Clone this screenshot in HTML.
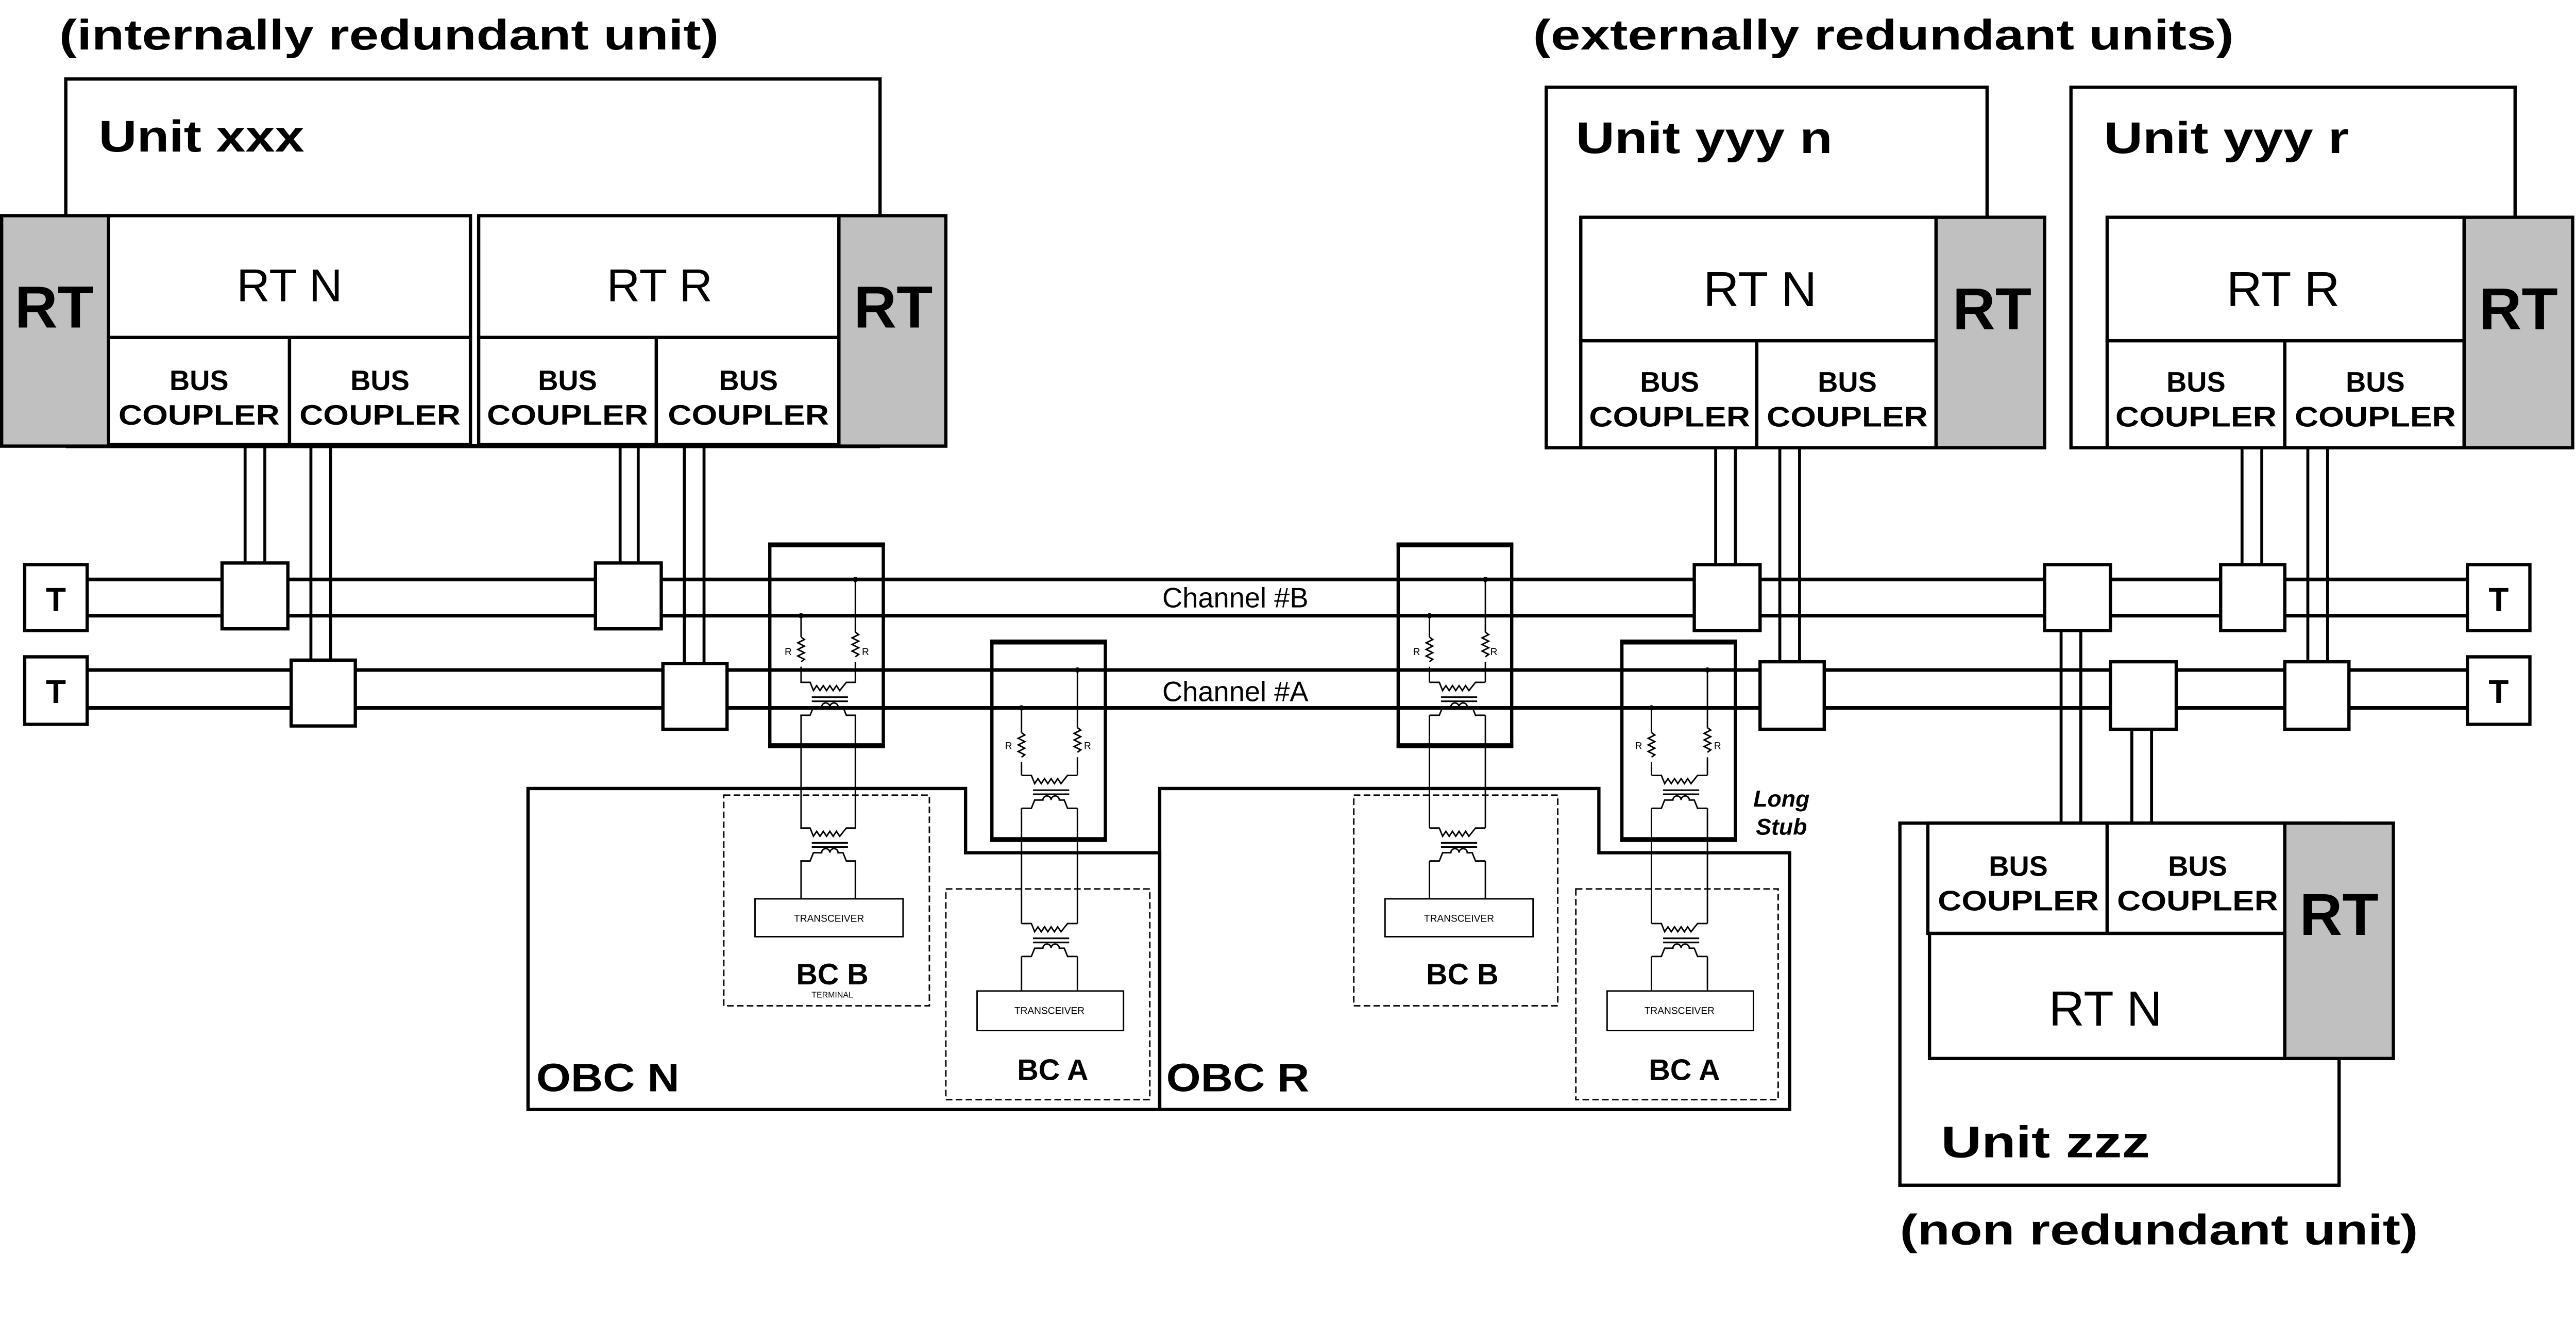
<!DOCTYPE html>
<html><head><meta charset="utf-8"><style>
html,body{margin:0;padding:0;background:#fff;overflow:hidden;width:5316px;height:2600px;}
svg{display:block;}
text{font-family:"Liberation Sans",Arial,sans-serif;fill:#000;}
.b{font-weight:bold;}
</style></head><body>
<svg width="5316" height="2600" viewBox="0 0 1665 814" preserveAspectRatio="none" xmlns="http://www.w3.org/2000/svg">
<defs>
<g id="xf" fill="none" stroke="#000" stroke-width="0.9">
 <path d="M-17,0 H-11 L-9,5 l2,-3 l2,3 l2,-3 l2,3 l2,-3 l2,3 l2,-3 l2,3 L11,0 H17"/>
 <path d="M-10,9 H12 M-10,11.5 H12" stroke-width="1"/>
 <path d="M-17,20 H-11 L-9,15 h5 a2.5,2.5 0 0 1 5,0 a2.5,2.5 0 0 1 5,0 h3 L11,20 H17"/>
</g>
<g id="res" fill="none" stroke="#000" stroke-width="0.9">
 <path d="M0,0 l2,1.5 l-4,2 l4,2 l-4,2 l4,2 l-4,2 l4,2 l-2,1.5"/>
</g>
</defs>
<rect width="1665" height="814" fill="#fff"/>

<text class="b" x="36" y="30" font-size="26" textLength="401" lengthAdjust="spacingAndGlyphs">(internally redundant unit)</text>
<text class="b" x="932" y="30" font-size="26" textLength="426" lengthAdjust="spacingAndGlyphs">(externally redundant units)</text>
<text class="b" x="1155" y="756" font-size="26" textLength="315" lengthAdjust="spacingAndGlyphs">(non redundant unit)</text>

<g stroke="#000" fill="none">
<g stroke-width="1.8">
 <path d="M149,270V342 M161,270V342 M189,270V401 M201,270V401"/>
 <path d="M377,270V342 M388,270V342 M416,270V403 M428,270V403"/>
 <path d="M1043,272V343 M1055,272V343 M1082,272V402 M1094,272V402"/>
 <path d="M1363,272V343 M1375,272V343 M1403,272V402 M1415,272V402"/>
 <path d="M1253,383V500 M1265,383V500 M1296,443V500 M1308,443V500"/>
</g>
<g stroke-width="2.2">
 <path d="M53,352H1500 M53,374H1500 M53,407H1500 M53,430H1500"/>
</g>
</g>

<g fill="#fff" stroke="#000" stroke-width="2">
 <rect x="135" y="342" width="40" height="40"/>
 <rect x="362" y="342" width="40" height="40"/>
 <rect x="177" y="401" width="39" height="40"/>
 <rect x="403" y="403" width="39" height="40"/>
 <rect x="1030" y="343" width="40" height="40"/>
 <rect x="1350" y="343" width="39" height="40"/>
 <rect x="1243" y="343" width="40" height="40"/>
 <rect x="1070" y="402" width="39" height="41"/>
 <rect x="1389" y="402" width="39" height="41"/>
 <rect x="1283" y="402" width="40" height="41"/>
 <rect x="15" y="343" width="38" height="40"/>
 <rect x="15" y="399" width="38" height="41"/>
 <rect x="1500" y="343" width="38" height="40"/>
 <rect x="1500" y="399" width="38" height="41"/>
</g>
<g class="b" font-size="20" text-anchor="middle">
 <text class="b" x="34" y="371">T</text><text class="b" x="34" y="427">T</text>
 <text class="b" x="1519" y="371">T</text><text class="b" x="1519" y="427">T</text>
</g>

<g stroke="#000" stroke-width="2" fill="#fff">
 <path d="M40,131V48H535V131" fill="none"/>
 <path d="M40,271H535" fill="none" stroke-width="2.5"/>
 <rect x="66" y="131" width="220" height="74"/>
 <rect x="66" y="205" width="110" height="65"/>
 <rect x="176" y="205" width="110" height="65"/>
 <rect x="291" y="131" width="219" height="74"/>
 <rect x="291" y="205" width="108" height="65"/>
 <rect x="399" y="205" width="111" height="65"/>
 <rect x="1" y="131" width="65" height="140" fill="#c0c0c0"/>
 <rect x="510" y="131" width="65" height="140" fill="#c0c0c0"/>
</g>
<text class="b" x="60" y="92" font-size="27" textLength="125" lengthAdjust="spacingAndGlyphs">Unit xxx</text>
<text x="176" y="183" font-size="28" text-anchor="middle">RT N</text>
<text x="401" y="183" font-size="28" text-anchor="middle">RT R</text>
<text class="b" x="33" y="199" font-size="36" text-anchor="middle">RT</text>
<text class="b" x="543" y="199" font-size="36" text-anchor="middle">RT</text>
<g class="b" font-size="17" text-anchor="middle">
 <text class="b" x="121" y="237">BUS</text><text class="b" x="121" y="258" textLength="98" lengthAdjust="spacingAndGlyphs">COUPLER</text>
 <text class="b" x="231" y="237">BUS</text><text class="b" x="231" y="258" textLength="98" lengthAdjust="spacingAndGlyphs">COUPLER</text>
 <text class="b" x="345" y="237">BUS</text><text class="b" x="345" y="258" textLength="98" lengthAdjust="spacingAndGlyphs">COUPLER</text>
 <text class="b" x="455" y="237">BUS</text><text class="b" x="455" y="258" textLength="98" lengthAdjust="spacingAndGlyphs">COUPLER</text>
</g>

<g stroke="#000" stroke-width="2" fill="#fff">
 <rect x="940" y="53" width="268" height="219" fill="none"/>
 <rect x="961" y="132" width="216" height="75"/>
 <rect x="961" y="207" width="107" height="65"/>
 <rect x="1068" y="207" width="109" height="65"/>
 <rect x="1177" y="132" width="66" height="140" fill="#c0c0c0"/>
 <rect x="1259" y="53" width="270" height="219" fill="none"/>
 <rect x="1281" y="132" width="217" height="75"/>
 <rect x="1281" y="207" width="108" height="65"/>
 <rect x="1389" y="207" width="109" height="65"/>
 <rect x="1498" y="132" width="66" height="140" fill="#c0c0c0"/>
</g>
<text class="b" x="958" y="93" font-size="27" textLength="156" lengthAdjust="spacingAndGlyphs">Unit yyy n</text>
<text class="b" x="1279" y="93" font-size="27" textLength="149" lengthAdjust="spacingAndGlyphs">Unit yyy r</text>
<text x="1070" y="186" font-size="30" text-anchor="middle">RT N</text>
<text x="1388" y="186" font-size="30" text-anchor="middle">RT R</text>
<text class="b" x="1211" y="200" font-size="36" text-anchor="middle">RT</text>
<text class="b" x="1531" y="200" font-size="36" text-anchor="middle">RT</text>
<g class="b" font-size="17" text-anchor="middle">
 <text class="b" x="1015" y="238">BUS</text><text class="b" x="1015" y="259" textLength="98" lengthAdjust="spacingAndGlyphs">COUPLER</text>
 <text class="b" x="1123" y="238">BUS</text><text class="b" x="1123" y="259" textLength="98" lengthAdjust="spacingAndGlyphs">COUPLER</text>
 <text class="b" x="1335" y="238">BUS</text><text class="b" x="1335" y="259" textLength="98" lengthAdjust="spacingAndGlyphs">COUPLER</text>
 <text class="b" x="1444" y="238">BUS</text><text class="b" x="1444" y="259" textLength="98" lengthAdjust="spacingAndGlyphs">COUPLER</text>
</g>

<g stroke="#000" stroke-width="2" fill="#fff">
 <rect x="1155" y="500" width="267" height="220" fill="none"/>
 <rect x="1172" y="500" width="109" height="67"/>
 <rect x="1281" y="500" width="108" height="67"/>
 <rect x="1173" y="567" width="216" height="76"/>
 <rect x="1389" y="500" width="66" height="143" fill="#c0c0c0"/>
</g>
<text class="b" x="1180" y="703" font-size="27" textLength="127" lengthAdjust="spacingAndGlyphs">Unit  zzz</text>
<text x="1280" y="623" font-size="30" text-anchor="middle">RT N</text>
<text class="b" x="1422" y="568" font-size="36" text-anchor="middle">RT</text>
<g class="b" font-size="17" text-anchor="middle">
 <text class="b" x="1227" y="532">BUS</text><text class="b" x="1227" y="553" textLength="98" lengthAdjust="spacingAndGlyphs">COUPLER</text>
 <text class="b" x="1336" y="532">BUS</text><text class="b" x="1336" y="553" textLength="98" lengthAdjust="spacingAndGlyphs">COUPLER</text>
</g>

<text x="751" y="369" font-size="17" text-anchor="middle">Channel #B</text>
<text x="751" y="426" font-size="17" text-anchor="middle">Channel #A</text>

<g stroke="#000" stroke-width="2" fill="none">
 <path d="M321,479H587V518H705V674H321Z"/>
 <path d="M705,479H972V518H1088V674H705Z"/>
</g>
<text class="b" x="326" y="663" font-size="24" textLength="87" lengthAdjust="spacingAndGlyphs">OBC N</text>
<text class="b" x="709" y="663" font-size="24" textLength="87" lengthAdjust="spacingAndGlyphs">OBC R</text>
<text class="b" font-style="italic" x="1083" y="490" font-size="14" text-anchor="middle">Long</text>
<text class="b" font-style="italic" x="1083" y="507" font-size="14" text-anchor="middle">Stub</text>

<g stroke="#000" stroke-width="0.9" fill="none" stroke-dasharray="4,2">
 <rect x="440" y="483" width="125" height="128"/>
 <rect x="575" y="540" width="124" height="128"/>
 <rect x="823" y="483" width="124" height="128"/>
 <rect x="958" y="540" width="123" height="128"/>
</g>
<g stroke="#000" stroke-width="0.9" fill="#fff">
 <rect x="459" y="546" width="90" height="23"/>
 <rect x="594" y="602" width="89" height="24"/>
 <rect x="842" y="546" width="90" height="23"/>
 <rect x="977" y="602" width="89" height="24"/>
</g>
<g font-size="6" text-anchor="middle">
 <text x="504" y="560">TRANSCEIVER</text>
 <text x="638" y="616">TRANSCEIVER</text>
 <text x="887" y="560">TRANSCEIVER</text>
 <text x="1021" y="616">TRANSCEIVER</text>
 <text x="506" y="606" font-size="5">TERMINAL</text>
</g>
<g class="b" font-size="18" text-anchor="middle">
 <text class="b" x="506" y="598">BC B</text>
 <text class="b" x="640" y="656">BC A</text>
 <text class="b" x="889" y="598">BC B</text>
 <text class="b" x="1024" y="656">BC A</text>
</g>

<g stroke="#000" fill="none">
 <g stroke-width="2"><rect x="468" y="331" width="69" height="122"/><rect x="603" y="390" width="69" height="120"/><rect x="850" y="331" width="69" height="122"/><rect x="986" y="390" width="69" height="120"/></g>
 <g stroke-width="3"><path d="M467,331H538M467,453H538 M602,390H673M602,510H673 M849,331H920M849,453H920 M985,390H1056M985,510H1056"/></g>
</g>

<g stroke="#000" stroke-width="0.9" fill="none">
 <path d="M487,374V387 M487,405V414.5 M520,352V384 M520,402V414.5 M487,434.5V503 M520,434.5V503 M487,523V546 M520,523V546"/>
 <path d="M621,430V445 M621,463V471 M655,407V442 M655,460V471 M621,491V561 M655,491V561 M621,581V602 M655,581V602"/>
 <path d="M869,374V387 M869,405V414.5 M903,352V384 M903,402V414.5 M869,434.5V503 M903,434.5V503 M869,523V546 M903,523V546"/>
 <path d="M1004,430V445 M1004,463V471 M1038,407V442 M1038,460V471 M1004,491V561 M1038,491V561 M1004,581V602 M1038,581V602"/>
</g>
<g fill="#000">
 <circle cx="487" cy="374" r="1.6"/><circle cx="520" cy="352" r="1.6"/>
 <circle cx="621" cy="430" r="1.6"/><circle cx="655" cy="407" r="1.6"/>
 <circle cx="869" cy="374" r="1.6"/><circle cx="903" cy="352" r="1.6"/>
 <circle cx="1004" cy="430" r="1.6"/><circle cx="1038" cy="407" r="1.6"/>
</g>
<use href="#res" x="487" y="387"/><use href="#res" x="520" y="384"/>
<use href="#res" x="621" y="445"/><use href="#res" x="655" y="442"/>
<use href="#res" x="869" y="387"/><use href="#res" x="903" y="384"/>
<use href="#res" x="1004" y="445"/><use href="#res" x="1038" y="442"/>
<g font-size="6">
 <text x="477" y="398">R</text><text x="524" y="398">R</text>
 <text x="611" y="455">R</text><text x="659" y="455">R</text>
 <text x="859" y="398">R</text><text x="906" y="398">R</text>
 <text x="994" y="455">R</text><text x="1042" y="455">R</text>
</g>
<use href="#xf" x="503.5" y="414.5"/><use href="#xf" x="503.5" y="503"/>
<use href="#xf" x="638" y="471"/><use href="#xf" x="638" y="561"/>
<use href="#xf" x="886" y="414.5"/><use href="#xf" x="886" y="503"/>
<use href="#xf" x="1021" y="471"/><use href="#xf" x="1021" y="561"/>
</svg>
</body></html>
